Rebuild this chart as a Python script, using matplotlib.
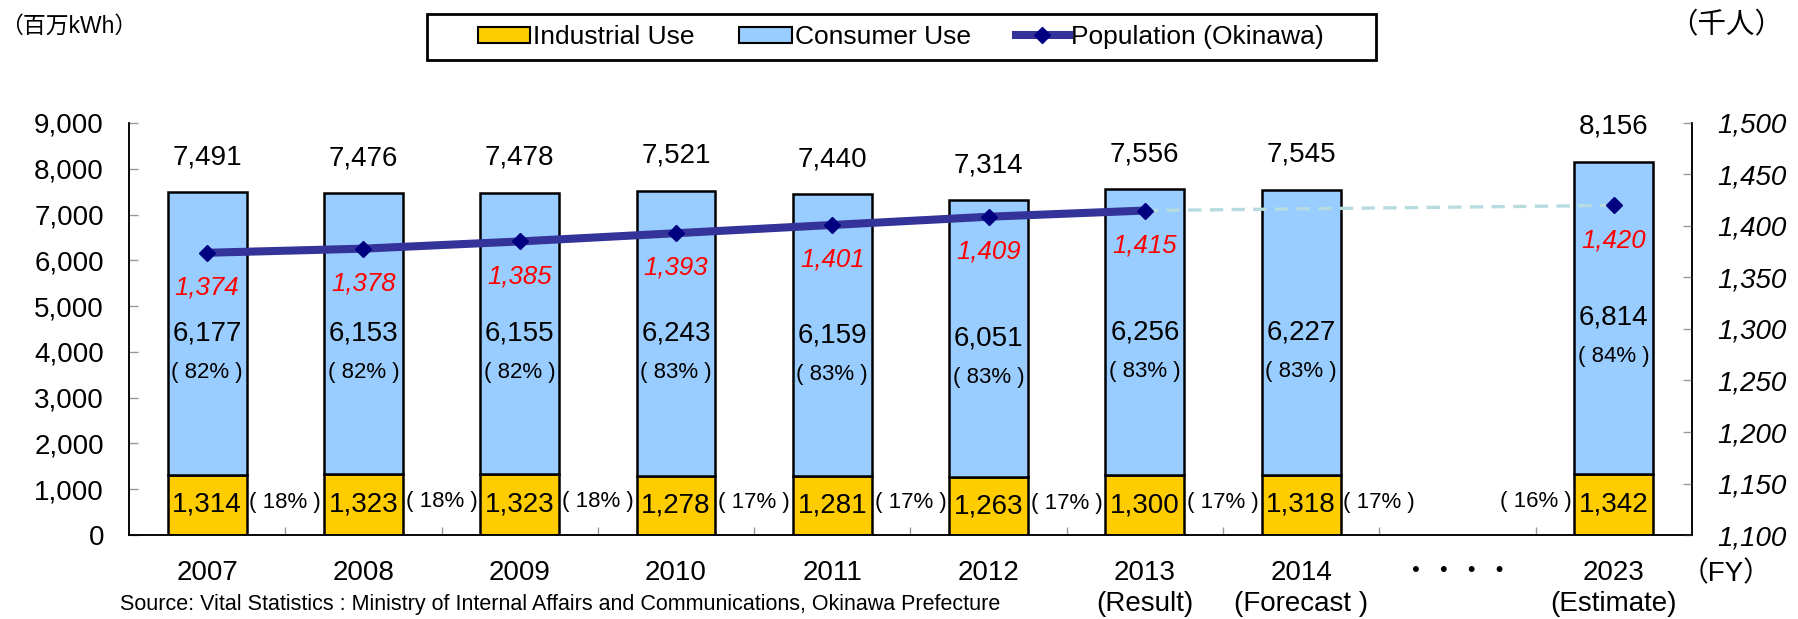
import matplotlib
matplotlib.use("Agg")
import matplotlib.pyplot as plt
import numpy as np
from matplotlib.patches import Patch, Rectangle
from matplotlib.lines import Line2D

plt.rcParams['font.family'] = ['Liberation Sans', 'Noto Sans CJK JP']

# Fiscal year slots (slot 8 is the gap between 2014 and 2023)
year_labels = ['2007', '2008', '2009', '2010', '2011', '2012',
               '2013\n(Result)', '2014\n(Forecast )', '・・・・', '2023\n(Estimate)']
industrial = [1314, 1323, 1323, 1278, 1281, 1263, 1300, 1318, np.nan, 1342]
consumer = [6177, 6153, 6155, 6243, 6159, 6051, 6256, 6227, np.nan, 6814]
industrial_pct = [18, 18, 18, 17, 17, 17, 17, 17, None, 16]
consumer_pct = [82, 82, 82, 83, 83, 83, 83, 83, None, 84]
population = [1374, 1378, 1385, 1393, 1401, 1409, 1415, np.nan, np.nan, 1420]

YELLOW = '#FFCC00'
BLUE = '#99CCFF'
LINE = '#333399'
MARK = '#000080'

x = np.arange(len(year_labels))
ind = np.array(industrial, dtype=float)
con = np.array(consumer, dtype=float)
pop = np.array(population, dtype=float)
total = ind + con

fig = plt.figure(figsize=(17.98, 6.19), dpi=100)
ax = fig.add_axes([0.0717, 0.1357, 0.9410 - 0.0717, 0.8013 - 0.1357])
ax2 = ax.twinx()

w = 0.505
ax.bar(x, ind, w, color=YELLOW, edgecolor='black', linewidth=1.8, zorder=2)
ax.bar(x, con, w, bottom=ind, color=BLUE, edgecolor='black', linewidth=1.8, zorder=2)

ax.set_xlim(-0.5, len(x) - 0.5)
ax.set_ylim(0, 9000)
ax.set_yticks(np.arange(0, 9001, 1000))
ax.set_yticklabels([f'{v:,}' for v in range(0, 9001, 1000)], fontsize=20)
ax.set_xticks(x)
ax.set_xticklabels(year_labels, fontsize=20, linespacing=1.25)
ax.set_xticks(x[:-1] + 0.5, minor=True)
ax.tick_params(axis='x', which='major', length=0, pad=18)
ax.tick_params(axis='x', which='minor', direction='in', length=6, color='#999999', width=1)
ax.tick_params(axis='y', direction='in', length=6.5, color='#999999', width=1, pad=18)
ax.spines['top'].set_visible(False)

ax2.set_ylim(1100, 1500)
ax2.set_yticks(np.arange(1100, 1501, 50))
ax2.set_yticklabels([f'{v:,}' for v in range(1100, 1501, 50)], fontsize=20, style='italic')
ax2.tick_params(axis='y', direction='in', length=6.5, color='#999999', width=1, pad=18)
ax2.spines['top'].set_visible(False)
for a in (ax, ax2):
    for s in a.spines.values():
        s.set_linewidth(1.1)

# population: results as a solid line, projection as a dashed line
known = ~np.isnan(pop)
last_result = 6
ax2.plot(x[:last_result + 1], pop[:last_result + 1], color=LINE, lw=5.8,
         solid_capstyle='butt', zorder=3)
ax2.plot([x[last_result], x[-1]], [pop[last_result], pop[-1]], color='#B7DCE0',
         lw=2.4, ls=(0, (4, 2.5)), zorder=3)
ax2.plot(x[known], pop[known], ls='none', marker='D', ms=8.5, color=MARK, zorder=4)
for xi, p in zip(x[known], pop[known]):
    ax2.annotate(f'{int(p):,}', (xi, p), xytext=(0, -25), textcoords='offset points',
                 ha='center', va='center', color='red', style='italic', fontsize=18.5)

# value labels
for i in range(len(x)):
    if np.isnan(total[i]):
        continue
    ax.annotate(f'{int(total[i]):,}', (x[i], total[i]), xytext=(0, 25),
                textcoords='offset points', ha='center', va='center', fontsize=20)
    mid = ind[i] + con[i] / 2
    ax.annotate(f'{int(con[i]):,}', (x[i], mid), ha='center', va='center', fontsize=20)
    ax.annotate(f'( {consumer_pct[i]}% )', (x[i], mid), xytext=(0, -28),
                textcoords='offset points', ha='center', va='center', fontsize=16)
    ax.annotate(f'{int(ind[i]):,}', (x[i], ind[i] / 2), ha='center', va='center', fontsize=20)
    px = x[i] - 0.5 if i == len(x) - 1 else x[i] + 0.5
    ax.annotate(f'( {industrial_pct[i]}% )', (px, ind[i] / 2), xytext=(0, 2),
                textcoords='offset points', ha='center', va='center', fontsize=16)

fig.text(0.0, 0.958, '（百万kWh）', fontsize=16.5, va='center', ha='left')
fig.text(0.992, 0.958, '（千人）', fontsize=20.5, va='center', ha='right')
fig.text(0.960, 0.073, '（FY）', fontsize=20, va='center', ha='center')
fig.text(0.0667, 0.024, 'Source: Vital Statistics : Ministry of Internal Affairs and '
         'Communications, Okinawa Prefecture', fontsize=15.5, va='center', ha='left')

# legend with its own wider frame
fig.patches.append(Rectangle((427 / 1798, 0.9031), (1376 - 427) / 1798, 0.9774 - 0.9031,
                             transform=fig.transFigure, facecolor='white',
                             edgecolor='black', linewidth=2, zorder=0))
handles = [Patch(facecolor=YELLOW, edgecolor='black', linewidth=1.5),
           Patch(facecolor=BLUE, edgecolor='black', linewidth=1.5),
           Line2D([], [], color=LINE, lw=5.8, marker='D', ms=8.5, mfc=MARK, mec=MARK)]
fig.legend(handles, ['Industrial Use', 'Consumer Use', 'Population (Okinawa)'],
           loc='center', bbox_to_anchor=(0.501, 0.940), ncol=3, frameon=False,
           fontsize=19, handlelength=2.0, handleheight=0.55, handletextpad=0.1,
           columnspacing=1.7, borderpad=0.35, borderaxespad=0)

fig.savefig('out.png', dpi=100)
